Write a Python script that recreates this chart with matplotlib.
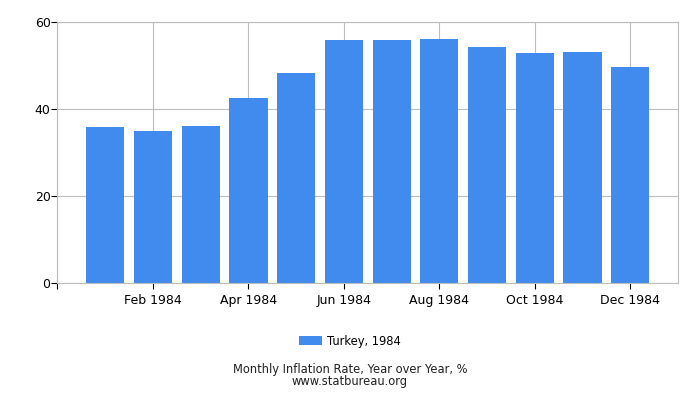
import matplotlib
matplotlib.use("Agg")
from matplotlib import pyplot as plt

# Turkey monthly inflation, 1984 (% year over year)
months = ["Jan", "Feb", "Mar", "Apr", "May", "Jun",
          "Jul", "Aug", "Sep", "Oct", "Nov", "Dec"]
values = [35.9, 34.9, 36.1, 42.5, 48.3, 55.9,
          55.9, 56.1, 54.3, 52.9, 53.1, 49.6]
year = "1984"
series_label = "Turkey, 1984"
y_ticks = [0, 20, 40, 60]

bar_color = "#418BEE"
grid_color = "#BDBDBD"

fig = plt.figure(figsize=(7, 4), dpi=100)
ax = fig.add_axes([0.0821, 0.2925, 0.8865, 0.6525])

x = list(range(1, len(values) + 1))
ax.bar(x, values, width=0.8, color=bar_color, label=series_label, zorder=2)

ax.set_xlim(0, len(values) + 1)
ax.set_ylim(0, 60)

tick_pos = [0] + x[1::2]
tick_lab = [""] + ["%s %s" % (m, year) for m in months[1::2]]
ax.set_xticks(tick_pos)
ax.set_xticklabels(tick_lab)
ax.set_yticks(y_ticks)

ax.grid(True, color=grid_color, linewidth=0.8, zorder=0)
ax.set_axisbelow(True)
for s in ax.spines.values():
    s.set_color(grid_color)
    s.set_linewidth(0.8)
ax.tick_params(axis="both", colors="black", labelsize=9, length=4, width=0.8)
ax.tick_params(axis="x", pad=4)
ax.tick_params(axis="y", pad=1)

leg = fig.legend(loc="center", bbox_to_anchor=(0.5, 0.1475), frameon=False,
                 fontsize=8.3, handlelength=2.0, handleheight=0.7, handletextpad=0.4)

# two-line footer as one text block
fig.text(0.5, 0.06, "Monthly Inflation Rate, Year over Year, %\nwww.statbureau.org",
         ha="center", va="center", fontsize=8.3, color="#222222",
         linespacing=0.9, multialignment="center")

fig.savefig("out.png", dpi=100)
